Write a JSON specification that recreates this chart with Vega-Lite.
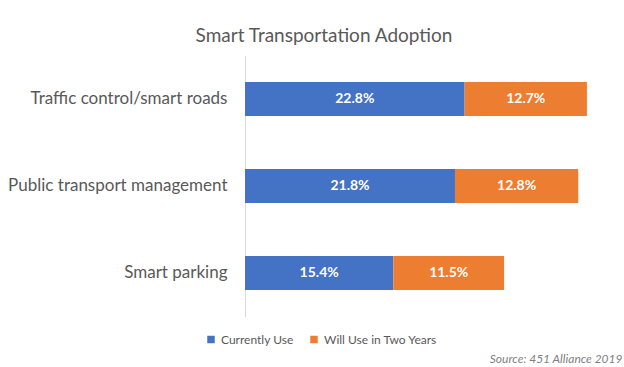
{
  "$schema": "https://vega.github.io/schema/vega-lite/v6.json",
  "autosize": "none",
  "width": 366,
  "height": 261,
  "padding": {"left": 245, "top": 55.5, "right": 13, "bottom": 50.5},
  "background": "white",
  "config": {"view": {"stroke": null}, "font": "Lato"},
  "title": {
    "text": "Smart Transportation Adoption",
    "anchor": "middle",
    "frame": "group",
    "dx": -104,
    "offset": 10,
    "fontSize": 19,
    "fontWeight": "normal",
    "font": "Lato",
    "color": "#595959"
  },
  "data": {
    "values": [
      {"category": "Traffic control/smart roads", "series": "Currently Use", "value": 0.228},
      {"category": "Traffic control/smart roads", "series": "Will Use in Two Years", "value": 0.127},
      {"category": "Public transport management", "series": "Currently Use", "value": 0.218},
      {"category": "Public transport management", "series": "Will Use in Two Years", "value": 0.128},
      {"category": "Smart parking", "series": "Currently Use", "value": 0.154},
      {"category": "Smart parking", "series": "Will Use in Two Years", "value": 0.115}
    ]
  },
  "encoding": {
    "y": {
      "field": "category",
      "type": "nominal",
      "sort": null,
      "scale": {"paddingInner": 0.61, "paddingOuter": 0.305},
      "axis": {
        "title": null,
        "ticks": false,
        "domainColor": "#D9D9D9",
        "labelFontSize": 17,
        "labelColor": "#595959",
        "labelPadding": 18,
        "labelFont": "Lato",
        "labelLimit": 300
      }
    },
    "x": {
      "field": "value",
      "type": "quantitative",
      "stack": "zero",
      "scale": {"domain": [0, 0.38], "nice": false},
      "axis": {
        "labels": false,
        "ticks": false,
        "domain": false,
        "grid": false,
        "title": "Source: 451 Alliance 2019",
        "titleFontStyle": "italic",
        "titleFontWeight": "normal",
        "titleFontSize": 12,
        "titleColor": "#7F7F7F",
        "titleFont": "Lato",
        "titleAlign": "right",
        "titleAnchor": "end",
        "titleX": 377,
        "titleY": 45.5,
        "titleBaseline": "alphabetic"
      }
    },
    "order": {"field": "series", "sort": "ascending"}
  },
  "layer": [
    {
      "mark": {"type": "bar"},
      "encoding": {
        "color": {
          "field": "series",
          "type": "nominal",
          "scale": {"domain": ["Currently Use", "Will Use in Two Years"], "range": ["#4472C4", "#ED7D31"]},
          "legend": {
            "title": null,
            "orient": "none",
            "direction": "horizontal",
            "legendX": -40,
            "legendY": 278,
            "symbolType": "square",
            "symbolSize": 56,
            "symbolStrokeWidth": 0,
            "labelFontSize": 12,
            "labelFont": "Lato",
            "labelColor": "#595959",
            "columnPadding": 14,
            "labelOffset": 4
          }
        }
      }
    },
    {
      "mark": {"type": "text", "color": "white", "fontWeight": "bold", "fontSize": 14, "font": "Lato", "baseline": "middle"},
      "encoding": {
        "x": {"field": "value", "type": "quantitative", "stack": "zero", "bandPosition": 0.5},
        "text": {"field": "value", "type": "quantitative", "format": ".1%"},
        "detail": {"field": "series"}
      }
    }
  ]
}
